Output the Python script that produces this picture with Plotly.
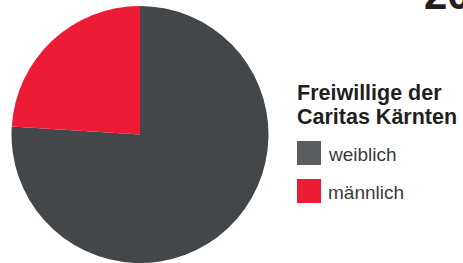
import plotly.graph_objects as go

labels = ["weiblich", "männlich"]
values = [76, 24]
pie_colors = ["#44474a", "#ed1b36"]
legend_labels = ["weiblich", "männlich"]
legend_colors = ["#5a5d5f", "#ed1b36"]
title_lines = ["Freiwillige der", "Caritas Kärnten"]
year_text = "20"

W, H = 463, 263

fig = go.Figure()
fig.add_trace(go.Pie(
    labels=labels, values=values, sort=False, direction="clockwise",
    rotation=0, textinfo="none", hoverinfo="label+percent",
    marker=dict(colors=pie_colors, line=dict(width=0)),
    domain=dict(x=[11.5 / W, 268.5 / W], y=[0, 1 - 6 / H]),
    showlegend=False,
))

def px(x):
    return x / W

def py(y):
    return 1 - y / H

annotations = []
shapes = []
# title lines
for i, t in enumerate(title_lines):
    annotations.append(dict(
        text="<b>%s</b>" % t, x=px(295), y=py(107 + 24 * i), xref="paper", yref="paper",
        xanchor="left", yanchor="bottom", showarrow=False,
        font=dict(family="Liberation Sans", size=21.5, color="#231f20"),
    ))
# legend items
for i, (lab, col) in enumerate(zip(legend_labels, legend_colors)):
    top = 141 + 38 * i
    shapes.append(dict(type="rect", xref="paper", yref="paper",
                       x0=px(297), x1=px(321), y0=py(top), y1=py(top + 24),
                       fillcolor=col, line=dict(width=0)))
    annotations.append(dict(
        text=lab, x=px(326), y=py(top + 13), xref="paper", yref="paper",
        xanchor="left", yanchor="middle", showarrow=False,
        font=dict(family="Liberation Sans", size=19, color="#3a3a3a"),
    ))
# cut-off year heading
annotations.append(dict(
    text="<b>%s</b>" % year_text, x=px(422), y=py(20), xref="paper", yref="paper",
    xanchor="left", yanchor="bottom", showarrow=False,
    font=dict(family="Liberation Sans", size=42, color="#231f20"),
))

fig.update_layout(
    width=W, height=H, margin=dict(l=0, r=0, t=0, b=0),
    paper_bgcolor="white", plot_bgcolor="white",
    annotations=annotations, shapes=shapes,
)

fig.write_html("out.html", config={"displayModeBar": False},
               post_script="document.body.style.margin='0';")
